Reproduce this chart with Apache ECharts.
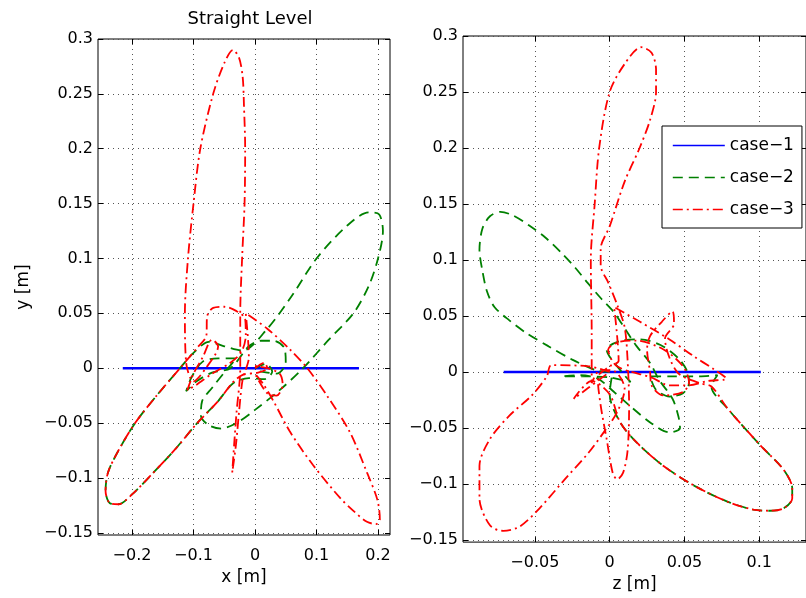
<!DOCTYPE html>
<html><head><meta charset="utf-8">
<script src="https://cdn.jsdelivr.net/npm/echarts@6/dist/echarts.min.js"></script>
<style>html,body{margin:0;padding:0;background:#fff}#c{width:806px;height:598px}</style>
</head><body><div id="c"></div>
<script>
// ---- data ----
const seriesNames = ['case\u22121', 'case\u22122', 'case\u22123'];
const xTicks = [-0.2, -0.1, 0, 0.1, 0.2];
const yTicks = [-0.15, -0.1, -0.05, 0, 0.05, 0.1, 0.15, 0.2, 0.25, 0.3];
const zTicks = [-0.05, 0, 0.05, 0.1];

// left panel: x vs y
const case1_xy = [[-0.215, 0], [0.169, 0]];
const case2_xy = [[0.0,0.0],[0.018,0.004],[0.028,-0.003],[0.015,-0.01],[-0.01,-0.009],[-0.036,-0.014],[-0.06,-0.03],[-0.094,-0.05],[-0.13,-0.074],[-0.17,-0.098],[-0.2,-0.115],[-0.222,-0.124],[-0.236,-0.123],[-0.243,-0.112],[-0.239,-0.095],[-0.222,-0.075],[-0.195,-0.05],[-0.16,-0.025],[-0.122,0.0],[-0.1,0.014],[-0.075,0.024],[-0.05,0.02],[-0.02,0.016],[0.02,0.036],[0.06,0.066],[0.1,0.1],[0.15,0.13],[0.185,0.142],[0.202,0.14],[0.208,0.125],[0.2,0.1],[0.185,0.075],[0.16,0.05],[0.12,0.026],[0.078,0.0],[0.04,-0.02],[0.0,-0.038],[-0.03,-0.05],[-0.055,-0.055],[-0.075,-0.052],[-0.088,-0.043],[-0.086,-0.03],[-0.07,-0.018],[-0.05,-0.004],[-0.03,0.009],[-0.06,0.009],[-0.085,0.006],[-0.103,-0.008],[-0.112,-0.021],[-0.095,-0.012],[-0.07,-0.004],[-0.04,0.0],[-0.01,0.02],[0.01,0.025],[0.03,0.025],[0.048,0.018],[0.05,0.005],[0.035,-0.005],[0.02,-0.004],[0.0,-0.002]];
const case3_xy = [[0.0,0.0],[0.015,0.005],[0.02,0.0],[0.005,-0.004],[-0.02,-0.006],[-0.036,-0.013],[-0.06,-0.03],[-0.094,-0.05],[-0.13,-0.074],[-0.17,-0.098],[-0.2,-0.115],[-0.222,-0.124],[-0.236,-0.123],[-0.243,-0.112],[-0.239,-0.095],[-0.222,-0.075],[-0.195,-0.05],[-0.16,-0.025],[-0.122,0.0],[-0.095,0.018],[-0.079,0.03],[-0.078,0.047],[-0.068,0.055],[-0.05,0.056],[-0.03,0.052],[-0.016,0.045],[-0.015,0.03],[-0.022,0.015],[-0.04,0.005],[-0.07,-0.005],[-0.095,-0.015],[-0.11,-0.02],[-0.1,-0.005],[-0.085,0.01],[-0.07,0.026],[-0.06,0.02],[-0.08,0.0],[-0.1,-0.012],[-0.112,0.005],[-0.114,0.05],[-0.109,0.1],[-0.1,0.15],[-0.089,0.2],[-0.068,0.25],[-0.05,0.278],[-0.036,0.29],[-0.026,0.283],[-0.02,0.265],[-0.018,0.24],[-0.016,0.2],[-0.017,0.15],[-0.021,0.1],[-0.024,0.05],[-0.024,0.0],[-0.03,-0.04],[-0.034,-0.07],[-0.037,-0.095],[-0.031,-0.07],[-0.026,-0.04],[-0.02,-0.01],[-0.01,0.01],[-0.015,0.05],[0.02,0.036],[0.057,0.017],[0.085,0.0],[0.117,-0.025],[0.154,-0.058],[0.182,-0.095],[0.199,-0.12],[0.203,-0.138],[0.197,-0.142],[0.182,-0.14],[0.16,-0.13],[0.138,-0.118],[0.094,-0.088],[0.057,-0.058],[0.03,-0.03],[0.013,-0.014],[0.0,-0.005],[0.02,-0.023],[0.035,-0.025],[0.045,-0.015],[0.04,-0.005],[0.02,0.0],[0.0,0.002]];

// right panel: z vs y
const case1_zy = [[-0.0708, 0], [0.101, 0]];
const case2_zy = [[0.0,0.0],[-0.008,0.001],[-0.025,0.011],[-0.041,0.023],[-0.056,0.035],[-0.067,0.046],[-0.077,0.058],[-0.082,0.072],[-0.085,0.09],[-0.087,0.109],[-0.085,0.128],[-0.08,0.139],[-0.073,0.143],[-0.065,0.14],[-0.054,0.131],[-0.043,0.12],[-0.032,0.106],[-0.023,0.093],[-0.015,0.08],[-0.006,0.066],[0.003,0.053],[0.011,0.037],[0.018,0.023],[0.027,0.008],[0.033,-0.007],[0.042,-0.024],[0.046,-0.04],[0.047,-0.05],[0.04,-0.054],[0.028,-0.046],[0.015,-0.032],[0.003,-0.018],[-0.008,-0.006],[-0.02,-0.003],[-0.032,-0.004],[-0.015,-0.004],[0.0,-0.005],[0.014,-0.009],[0.008,0.0],[-0.002,0.02],[0.008,0.028],[0.02,0.029],[0.034,0.024],[0.046,0.012],[0.052,0.0],[0.053,-0.01],[0.049,-0.019],[0.04,-0.022],[0.031,-0.016],[0.027,-0.004],[0.04,-0.004],[0.06,-0.004],[0.072,-0.003],[0.068,-0.013],[0.079,-0.033],[0.101,-0.066],[0.116,-0.087],[0.122,-0.104],[0.122,-0.113],[0.116,-0.122],[0.107,-0.124],[0.096,-0.123],[0.079,-0.116],[0.057,-0.102],[0.036,-0.084],[0.018,-0.063],[0.007,-0.045],[0.0,-0.02],[0.002,0.0]];
const case3_zy = [[0.0,0.0],[-0.014,0.005],[-0.039,0.006],[-0.042,-0.004],[-0.052,-0.021],[-0.067,-0.039],[-0.08,-0.06],[-0.087,-0.084],[-0.087,-0.113],[-0.08,-0.137],[-0.071,-0.142],[-0.06,-0.138],[-0.047,-0.122],[-0.03,-0.096],[-0.014,-0.072],[-0.004,-0.054],[0.005,-0.036],[0.01,-0.015],[0.004,0.0],[-0.006,0.002],[-0.012,-0.01],[-0.012,0.035],[-0.0126,0.1],[-0.01,0.15],[-0.007,0.2],[0.0,0.25],[0.01,0.275],[0.021,0.29],[0.028,0.285],[0.031,0.27],[0.031,0.25],[0.027,0.225],[0.02,0.2],[0.01,0.17],[0.0,0.13],[-0.006,0.11],[-0.006,0.095],[-0.001,0.08],[0.005,0.06],[0.01,0.04],[0.012,0.01],[0.013,-0.03],[0.012,-0.07],[0.009,-0.09],[0.005,-0.096],[0.002,-0.09],[-0.002,-0.06],[-0.006,-0.03],[-0.008,-0.005],[0.0,0.005],[0.006,0.01],[0.003,0.058],[0.02,0.045],[0.04,0.029],[0.055,0.015],[0.07,0.002],[0.078,-0.006],[0.066,-0.008],[0.052,-0.012],[0.04,-0.012],[0.028,-0.005],[0.005,0.005],[-0.001,0.02],[0.007,0.027],[0.018,0.028],[0.036,0.02],[0.049,0.005],[0.053,-0.009],[0.049,-0.018],[0.036,-0.021],[0.028,-0.012],[0.027,0.0],[0.025,0.02],[0.027,0.032],[0.035,0.045],[0.042,0.054],[0.043,0.043],[0.037,0.03],[0.045,0.0],[0.06,-0.01],[0.068,-0.013],[0.079,-0.033],[0.101,-0.066],[0.116,-0.087],[0.122,-0.104],[0.122,-0.113],[0.116,-0.122],[0.107,-0.124],[0.096,-0.123],[0.079,-0.116],[0.057,-0.102],[0.036,-0.084],[0.018,-0.063],[0.007,-0.045],[0.0,-0.02],[-0.012,-0.008],[-0.024,-0.024],[-0.014,-0.014],[0.0,0.0]];

// ---- chart ----
const FONT = 'DejaVu Sans';
const fmt = v => String(parseFloat(Number(v).toFixed(3))).replace('-', '\u2212');
const gridLine = { show: true, lineStyle: { color: '#555', width: 1, type: [1, 4] } };
const tick = t => ({ show: true, inside: true, length: 5, customValues: t, lineStyle: { color: '#000' } });

function mainX(grid, min, max, ticks, name) {
  return {
    type: 'value', gridIndex: grid, min, max, position: 'bottom',
    axisLine: { show: false, onZero: false },
    axisTick: tick(ticks),
    axisLabel: { customValues: ticks, formatter: fmt, margin: 13, color: '#000', fontSize: 16, fontFamily: FONT },
    splitLine: gridLine,
    name, nameLocation: 'middle', nameGap: 32,
    nameTextStyle: { color: '#000', fontSize: 17, fontFamily: FONT }
  };
}
function sideX(grid, min, max, ticks) {
  return {
    type: 'value', gridIndex: grid, min, max, position: 'top',
    axisLine: { show: false, onZero: false }, axisLabel: { show: false }, splitLine: { show: false },
    axisTick: tick(ticks)
  };
}
function mainY(grid, min, max, ticks, name) {
  return {
    type: 'value', gridIndex: grid, min, max, position: 'left',
    axisLine: { show: false, onZero: false },
    axisTick: tick(ticks),
    axisLabel: { customValues: ticks, formatter: fmt, margin: 5, color: '#000', fontSize: 16, fontFamily: FONT },
    splitLine: gridLine,
    name, nameLocation: 'middle', nameGap: 66, nameRotate: 90,
    nameTextStyle: { color: '#000', fontSize: 17, fontFamily: FONT }
  };
}
function sideY(grid, min, max, ticks) {
  return {
    type: 'value', gridIndex: grid, min, max, position: 'right',
    axisLine: { show: false, onZero: false }, axisLabel: { show: false }, splitLine: { show: false },
    axisTick: tick(ticks)
  };
}

const styles = [
  { color: '#0000ff', width: 2.5, type: 'solid' },
  { color: '#008000', width: 1.8, type: [10, 6] },
  { color: '#ff0000', width: 1.8, type: [10, 4, 2, 4] }
];
function line(idx, xi, yi, data) {
  return {
    type: 'line', name: seriesNames[idx], xAxisIndex: xi, yAxisIndex: yi, data,
    symbol: 'none', showSymbol: false, smooth: 0.3, clip: true,
    lineStyle: styles[idx], itemStyle: { color: styles[idx].color },
    emphasis: { disabled: true }, z: 2 + idx
  };
}

const chart = echarts.init(document.getElementById('c'));
chart.setOption({
  animation: false,
  backgroundColor: '#fff',
  title: { text: 'Straight Level', left: 245, top: 5, textAlign: 'center',
    textStyle: { fontSize: 18, fontWeight: 'normal', color: '#000', fontFamily: FONT } },
  legend: {
    orient: 'vertical', left: 662, top: 126,
    data: seriesNames,
    itemWidth: 52, itemHeight: 14, itemGap: 15, padding: [11, 8, 10, 10],
    borderColor: '#000', borderWidth: 1, backgroundColor: '#fff',
    itemStyle: { opacity: 0 },
    lineStyle: { width: 1.6, opacity: 1 },
    textStyle: { fontSize: 17, fontFamily: FONT, color: '#000', lineHeight: 14 },
    selectedMode: false
  },
  grid: [
    { left: 98, top: 39, width: 292, height: 496, show: true, borderColor: '#000', borderWidth: 1, containLabel: false },
    { left: 463, top: 36, width: 350, height: 507, show: true, borderColor: '#000', borderWidth: 1, containLabel: false }
  ],
  xAxis: [
    mainX(0, -0.2553, 0.2195, xTicks, 'x [m]'),
    sideX(0, -0.2553, 0.2195, xTicks),
    mainX(1, -0.098, 0.1312, zTicks, 'z [m]'),
    sideX(1, -0.098, 0.1312, zTicks)
  ],
  yAxis: [
    mainY(0, -0.152, 0.3, yTicks, 'y [m]'),
    sideY(0, -0.152, 0.3, yTicks),
    mainY(1, -0.152, 0.3, yTicks, ''),
    sideY(1, -0.152, 0.3, yTicks)
  ],
  series: [
    line(0, 0, 0, case1_xy), line(1, 0, 0, case2_xy), line(2, 0, 0, case3_xy),
    line(0, 2, 2, case1_zy), line(1, 2, 2, case2_zy), line(2, 2, 2, case3_zy)
  ]
});
</script>
</body></html>
